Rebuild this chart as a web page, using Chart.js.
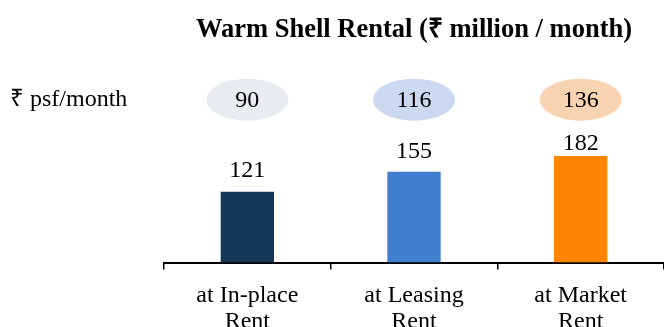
<!DOCTYPE html>
<html>
<head>
<meta charset="utf-8">
<script src="https://cdn.jsdelivr.net/npm/chart.js@4/dist/chart.umd.min.js"></script>
<style>
  html, body { margin: 0; padding: 0; background: #fff; }
  #wrap { width: 664px; height: 327px; }
</style>
</head>
<body>
<div id="wrap"><canvas id="rentChart"></canvas></div>
<script>
const categories = [['at In-place', 'Rent'], ['at Leasing', 'Rent'], ['at Market', 'Rent']];
const rentalMillion = [121, 155, 182];
const psfMonth = [90, 116, 136];
const barColors = ['#143659', '#3f7fcd', '#ff8503'];
const bubbleColors = ['#e8ebef', '#cbd8ef', '#f8d3b1'];

const serif = "'Liberation Serif', 'Times New Roman', serif";

// draws the value over each bar and the ₹ psf/month row of ellipses
const annotations = {
  id: 'annotations',
  afterDatasetsDraw(chart, args, opts) {
    const ctx = chart.ctx;
    const meta = chart.getDatasetMeta(0);
    const x = chart.scales.x, y = chart.scales.y;
    const rowY = y.getPixelForValue(opts.rowValue);
    ctx.save();
    ctx.font = '24px ' + serif;
    ctx.fillStyle = '#000';
    ctx.textAlign = 'center';
    meta.data.forEach((bar, i) => {
      ctx.textBaseline = 'alphabetic';
      ctx.fillText(rentalMillion[i], bar.x, bar.y - opts.labelGap[i]);

      const cx = x.getPixelForValue(i);
      ctx.beginPath();
      ctx.ellipse(cx, rowY, 41, 21, 0, 0, Math.PI * 2);
      ctx.fillStyle = bubbleColors[i];
      ctx.fill();
      ctx.fillStyle = '#000';
      ctx.textBaseline = 'middle';
      ctx.fillText(psfMonth[i], cx, rowY + 1);
    });
    ctx.textAlign = 'left';
    ctx.textBaseline = 'middle';
    ctx.fillText('₹ psf/month', 10, rowY);
    ctx.restore();
  }
};

new Chart(
  document.getElementById('rentChart'),
  {
    type: 'bar',
    data: {
      labels: categories,
      datasets: [{
        data: rentalMillion,
        backgroundColor: barColors,
        barPercentage: 0.32,
        categoryPercentage: 1
      }]
    },
    options: {
      responsive: true,
      maintainAspectRatio: false,
      animation: false,
      devicePixelRatio: 1,
      layout: {
        padding: { left: 164, right: 0, top: 0, bottom: -21 }
      },
      plugins: {
        legend: { display: false },
        tooltip: { enabled: false },
        title: {
          display: true,
          text: 'Warm Shell Rental (₹ million / month)',
          color: '#000',
          font: { family: serif, size: 26.5, weight: 'bold', lineHeight: 1.2 },
          padding: { top: 14, bottom: 7 }
        },
        annotations: { rowValue: 278, labelGap: [15, 14, 6] }
      },
      scales: {
        x: {
          grid: {
            offset: true,
            drawOnChartArea: false,
            color: '#000',
            lineWidth: 1.5,
            tickLength: 7
          },
          border: { color: '#000', width: 2 },
          ticks: {
            color: '#000',
            padding: 14,
            maxRotation: 0,
            font: { family: serif, size: 24, lineHeight: 1.05 }
          }
        },
        y: {
          display: false,
          min: 0,
          max: 358
        }
      }
    },
    plugins: [annotations]
  }
);
</script>
</body>
</html>
